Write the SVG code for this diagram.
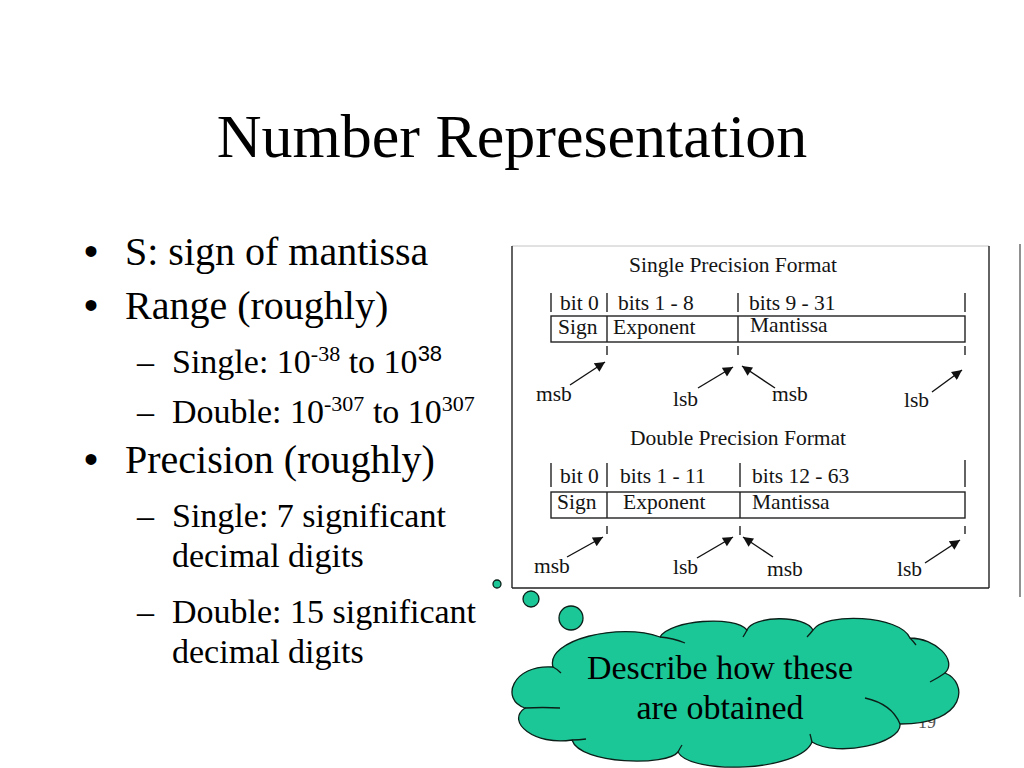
<svg xmlns="http://www.w3.org/2000/svg" width="1024" height="768" viewBox="0 0 1024 768">
<style>
.serif{font-family:"Liberation Serif","Times New Roman",serif;fill:#000}
.title{font-size:62px}
.b1{font-size:40px}
.b2{font-size:34px}
.sup{font-size:22px}
.supsans{font-family:"Liberation Sans",Arial,sans-serif;font-size:22px}
.bul{font-family:"Liberation Sans",Arial,sans-serif;font-size:40px;fill:#000}
.fig{font-family:"Liberation Serif","Times New Roman",serif;font-size:21.5px;fill:#141414}
.ln{stroke:#222;stroke-width:1.4;fill:none}
.arr{stroke:#111;stroke-width:1.4;fill:none;marker-end:url(#ah)}
.cloud{fill:#1cc797;stroke:#0b1f18;stroke-width:1.3}
.crease{fill:none;stroke:#0b1f18;stroke-width:1.3}
.ctext{font-family:"Liberation Serif","Times New Roman",serif;font-size:34px;fill:#000}
</style>
<defs>
<marker id="ah" viewBox="0 0 10 10" refX="10" refY="5" markerWidth="11" markerHeight="10" markerUnits="userSpaceOnUse" orient="auto">
<path d="M0,0 L10,5 L0,10 z" fill="#111"/>
</marker>
</defs>
<rect width="1024" height="768" fill="#fff"/>

<g id="title">
<text class="serif title" x="512" y="157" text-anchor="middle">Number Representation</text>
</g>

<g id="bullets">
<text class="bul" x="84" y="265">•</text>
<text class="serif b1" x="125" y="265">S: sign of mantissa</text>
<text class="bul" x="84" y="319">•</text>
<text class="serif b1" x="125" y="319">Range (roughly)</text>
<text class="serif b2" x="137" y="373">–</text>
<text class="serif b2" x="172" y="373">Single: 10<tspan class="sup" dy="-12">-38</tspan><tspan dy="12"> to 10</tspan><tspan class="supsans" dy="-12">38</tspan></text>
<text class="serif b2" x="137" y="423">–</text>
<text class="serif b2" x="172" y="423">Double: 10<tspan class="sup" dy="-12">-307</tspan><tspan dy="12"> to 10</tspan><tspan class="sup" dy="-12">307</tspan></text>
<text class="bul" x="84" y="473">•</text>
<text class="serif b1" x="125" y="473">Precision (roughly)</text>
<text class="serif b2" x="137" y="527">–</text>
<text class="serif b2" x="172" y="527">Single: 7 significant</text>
<text class="serif b2" x="172" y="567">decimal digits</text>
<text class="serif b2" x="137" y="623">–</text>
<text class="serif b2" x="172" y="623">Double: 15 significant</text>
<text class="serif b2" x="172" y="663">decimal digits</text>
</g>

<g id="figure-frame">
<line x1="512" y1="246" x2="989" y2="246" stroke="#c4c4c4" stroke-width="1"/>
<line class="ln" x1="512" y1="246" x2="512" y2="588"/>
<line class="ln" x1="989" y1="246" x2="989" y2="588"/>
<line class="ln" x1="512" y1="588" x2="989" y2="588"/>
<line x1="1020" y1="244" x2="1020" y2="597" stroke="#555" stroke-width="1.3"/>
</g>

<g id="single-format">
<text class="fig" x="733" y="272" text-anchor="middle">Single Precision Format</text>
<line class="ln" x1="551" y1="293" x2="551" y2="312"/>
<line class="ln" x1="607" y1="293" x2="607" y2="312"/>
<line class="ln" x1="738" y1="293" x2="738" y2="312"/>
<line class="ln" x1="965" y1="293" x2="965" y2="312"/>
<text class="fig" x="560" y="310">bit 0</text>
<text class="fig" x="618" y="310">bits 1 - 8</text>
<text class="fig" x="749" y="310">bits 9 - 31</text>
<rect class="ln" x="551" y="316" width="414" height="26"/>
<line class="ln" x1="607" y1="316" x2="607" y2="342"/>
<line class="ln" x1="738" y1="316" x2="738" y2="342"/>
<text class="fig" x="558" y="334">Sign</text>
<text class="fig" x="613" y="334">Exponent</text>
<text class="fig" x="750" y="332">Mantissa</text>
<line class="ln" x1="607" y1="346" x2="607" y2="355"/>
<line class="ln" x1="738" y1="346" x2="738" y2="355"/>
<line class="ln" x1="965" y1="346" x2="965" y2="355"/>
<text class="fig" x="536" y="401">msb</text>
<text class="fig" x="673" y="406">lsb</text>
<text class="fig" x="772" y="401">msb</text>
<text class="fig" x="904" y="407">lsb</text>
</g>

<g id="double-format">
<text class="fig" x="738" y="445" text-anchor="middle">Double Precision Format</text>
<line class="ln" x1="551" y1="463" x2="551" y2="487"/>
<line class="ln" x1="607" y1="463" x2="607" y2="487"/>
<line class="ln" x1="740" y1="463" x2="740" y2="487"/>
<line class="ln" x1="965" y1="460" x2="965" y2="487"/>
<text class="fig" x="560" y="483">bit 0</text>
<text class="fig" x="620" y="483">bits 1 - 11</text>
<text class="fig" x="752" y="483">bits 12 - 63</text>
<rect class="ln" x="551" y="492" width="414" height="26"/>
<line class="ln" x1="607" y1="492" x2="607" y2="518"/>
<line class="ln" x1="740" y1="492" x2="740" y2="518"/>
<text class="fig" x="557" y="509">Sign</text>
<text class="fig" x="623" y="509">Exponent</text>
<text class="fig" x="752" y="509">Mantissa</text>
<line class="ln" x1="607" y1="526" x2="607" y2="534"/>
<line class="ln" x1="740" y1="526" x2="740" y2="535"/>
<line class="ln" x1="965" y1="526" x2="965" y2="534"/>
<text class="fig" x="534" y="573">msb</text>
<text class="fig" x="673" y="574">lsb</text>
<text class="fig" x="767" y="576">msb</text>
<text class="fig" x="897" y="576">lsb</text>
</g>

<g id="connectors">
<line class="arr" x1="570" y1="385" x2="605" y2="362"/>
<line class="arr" x1="698" y1="388" x2="733" y2="367"/>
<line class="arr" x1="775" y1="388" x2="742" y2="366"/>
<line class="arr" x1="932" y1="392" x2="962" y2="370"/>
<line class="arr" x1="567" y1="557" x2="603" y2="537"/>
<line class="arr" x1="697" y1="558" x2="733" y2="537"/>
<line class="arr" x1="773" y1="557" x2="743" y2="537"/>
<line class="arr" x1="925" y1="563" x2="960" y2="540"/>
</g>

<g id="page-number">
<text x="936" y="728" text-anchor="end" font-family="Liberation Serif, Times New Roman, serif" font-size="18" fill="#555">19</text>
</g>

<g id="cloud-callout">
<circle class="cloud" cx="497" cy="584" r="4"/>
<circle class="cloud" cx="531" cy="599" r="8"/>
<circle class="cloud" cx="571" cy="618" r="12"/>
<path class="cloud" d="M553,667 C545,640 620,622 660,637 C670,620 735,615 747,630 C752,616 805,614 813,630 C825,612 900,615 910,638 C935,638 958,660 945,673 C968,682 968,724 900,724 C902,743 838,758 812,742 C800,772 690,775 678,752 C668,766 580,765 572,740 C535,746 505,722 525,708 C500,700 512,664 553,667 Z"/>
<path class="crease" d="M553,667 Q557,669 561,673"/>
<path class="crease" d="M660,637 Q673,638 685,643"/>
<path class="crease" d="M747,630 Q745,634 743,637"/>
<path class="crease" d="M813,630 Q810,634 807,637"/>
<path class="crease" d="M910,638 Q913,641 916,645"/>
<path class="crease" d="M945,673 Q938,678 930,682"/>
<path class="crease" d="M865,698 Q892,704 900,724"/>
<path class="crease" d="M812,742 Q811,738 810,734"/>
<path class="crease" d="M678,752 Q680,748 682,745"/>
<path class="crease" d="M572,740 Q579,740 586,739"/>
<path class="crease" d="M525,708 Q543,707 560,708"/>
<text class="ctext" x="720" y="679" text-anchor="middle">Describe how these</text>
<text class="ctext" x="720" y="719" text-anchor="middle">are obtained</text>
</g>
</svg>
